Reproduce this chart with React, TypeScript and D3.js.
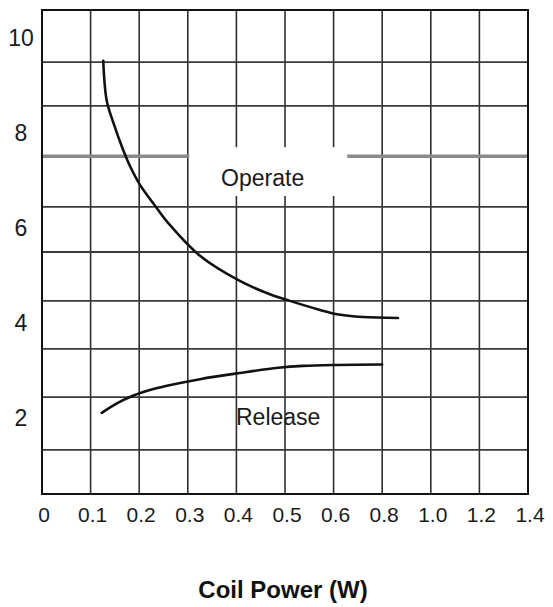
import React, { useRef, useEffect } from "react";
import * as d3 from "d3";

// x axis labels are not evenly spaced in value, only in position
const xTicks = [0, 0.1, 0.2, 0.3, 0.4, 0.5, 0.6, 0.8, 1.0, 1.2, 1.4];
const xTickLabels = ["0", "0.1", "0.2", "0.3", "0.4", "0.5", "0.6", "0.8", "1.0", "1.2", "1.4"];

const yTickValues = [2, 4, 6, 8, 10];
// horizontal rules (they sit between the labels)
const yGridValues = [1.33, 2.44, 3.46, 4.47, 5.5, 6.45, 8.58, 9.5];
const yHeavyRule = 7.52;

const operateX = [0.126, 0.133, 0.147, 0.167, 0.183, 0.202, 0.233, 0.263, 0.325, 0.407, 0.469, 0.51, 0.572, 0.614, 0.72, 0.865];
const operateY = [9.53, 8.7, 8.22, 7.65, 7.27, 6.91, 6.47, 6.07, 5.42, 4.89, 4.61, 4.47, 4.28, 4.19, 4.13, 4.11];

const releaseX = [0.123, 0.154, 0.187, 0.222, 0.257, 0.325, 0.407, 0.486, 0.537, 0.614, 0.8];
const releaseY = [2.11, 2.31, 2.47, 2.59, 2.68, 2.82, 2.95, 3.06, 3.1, 3.12, 3.13];

const labels = [
  { text: "Operate", x: 0.454, y: 6.9 },
  { text: "Release", x: 0.486, y: 1.85 },
];
// white patch behind the "Operate" label
const operateBox = { x0: 0.3, x1: 0.656, y0: 6.68, y1: 7.71 };

const xTitle = "Coil Power (W)";

const FONT = "'Liberation Sans', Arial, sans-serif";

const App: React.FC = () => {
  const svgRef = useRef<SVGSVGElement | null>(null);
  const width = 553;
  const height = 607;

  useEffect(() => {
    const svg = d3.select(svgRef.current);
    svg.selectAll("*").remove();

    const left = 42;
    const right = 528;
    const top = 10;
    const bottom = 494;
    const cell = (right - left) / (xTicks.length - 1);

    const x = d3
      .scaleLinear()
      .domain(xTicks)
      .range(xTicks.map((_, i) => left + i * cell));

    const y = d3.scaleLinear().domain([0.4, 10.6]).range([bottom, top]);

    svg.append("rect").attr("width", width).attr("height", height).attr("fill", "#fff");

    const grid = svg.append("g");

    // vertical rules
    grid
      .selectAll("line.v")
      .data(xTicks.slice(1, -1))
      .enter()
      .append("line")
      .attr("x1", (d) => x(d))
      .attr("x2", (d) => x(d))
      .attr("y1", top)
      .attr("y2", bottom)
      .attr("stroke", "#2e2e2e")
      .attr("stroke-width", 1.6);

    // horizontal rules
    grid
      .selectAll("line.h")
      .data(yGridValues)
      .enter()
      .append("line")
      .attr("x1", left)
      .attr("x2", right)
      .attr("y1", (d) => y(d))
      .attr("y2", (d) => y(d))
      .attr("stroke", "#3a3a3a")
      .attr("stroke-width", 1.8);

    grid
      .append("line")
      .attr("x1", left)
      .attr("x2", right)
      .attr("y1", y(yHeavyRule))
      .attr("y2", y(yHeavyRule))
      .attr("stroke", "#8a8a8a")
      .attr("stroke-width", 3.5);

    // white box that cuts the grid round the Operate label
    svg
      .append("rect")
      .attr("x", x(operateBox.x0) + 1.5)
      .attr("y", y(operateBox.y1))
      .attr("width", x(operateBox.x1) - x(operateBox.x0) - 1.5)
      .attr("height", y(operateBox.y0) - y(operateBox.y1))
      .attr("fill", "#fff");

    // frame
    svg
      .append("rect")
      .attr("x", left)
      .attr("y", top)
      .attr("width", right - left)
      .attr("height", bottom - top)
      .attr("fill", "none")
      .attr("stroke", "#111")
      .attr("stroke-width", 2);

    // curves
    const line = d3
      .line<[number, number]>()
      .x((d) => x(d[0]))
      .y((d) => y(d[1]))
      .curve(d3.curveCatmullRom.alpha(0.5));

    const series = [
      operateX.map((v, i) => [v, operateY[i]] as [number, number]),
      releaseX.map((v, i) => [v, releaseY[i]] as [number, number]),
    ];

    svg
      .selectAll("path.curve")
      .data(series)
      .enter()
      .append("path")
      .attr("d", (d) => line(d))
      .attr("fill", "none")
      .attr("stroke", "#111")
      .attr("stroke-width", 2.6)
      .attr("stroke-linecap", "round");

    // curve labels
    svg
      .selectAll("text.lbl")
      .data(labels)
      .enter()
      .append("text")
      .attr("x", (d) => x(d.x))
      .attr("y", (d) => y(d.y))
      .attr("text-anchor", "middle")
      .style("font-family", FONT)
      .style("font-size", "23px")
      .style("fill", "#1a1a1a")
      .text((d) => d.text);

    // y tick labels
    svg
      .selectAll("text.yt")
      .data(yTickValues)
      .enter()
      .append("text")
      .attr("x", 21)
      .attr("y", (d) => y(d) + 8)
      .attr("text-anchor", "middle")
      .style("font-family", FONT)
      .style("font-size", "23px")
      .style("fill", "#1a1a1a")
      .text((d) => String(d));

    // x tick labels
    svg
      .selectAll("text.xt")
      .data(xTicks)
      .enter()
      .append("text")
      .attr("x", (d) => x(d) + 2)
      .attr("y", 522)
      .attr("text-anchor", "middle")
      .style("font-family", FONT)
      .style("font-size", "21px")
      .style("fill", "#1a1a1a")
      .text((_, i) => xTickLabels[i]);

    // axis title
    svg
      .append("text")
      .attr("x", 283)
      .attr("y", 598)
      .attr("text-anchor", "middle")
      .style("font-family", FONT)
      .style("font-size", "24px")
      .style("font-weight", "700")
      .style("fill", "#111")
      .text(xTitle);
  }, []);

  return (
    <svg
      ref={svgRef}
      width={width}
      height={height}
      style={{ position: "absolute", left: 0, top: 0, display: "block" }}
    ></svg>
  );
};

export default App;
